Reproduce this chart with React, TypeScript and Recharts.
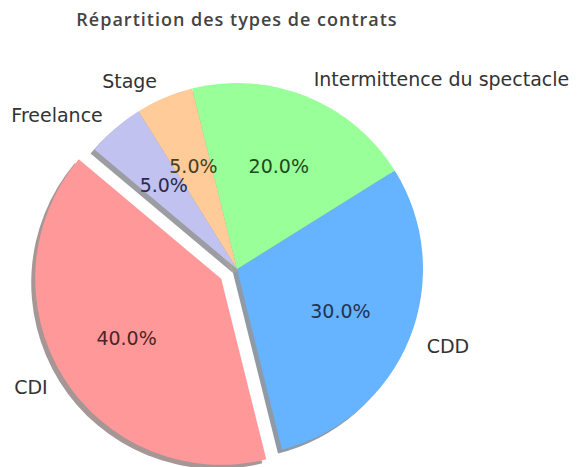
import { PieChart, Pie, Cell } from "recharts";

const CONTRATS = ["CDI", "CDD", "Intermittence du spectacle", "Stage", "Freelance"];
const PARTS = [40, 30, 20, 5, 5];
const COULEURS = ["#ff9999", "#66b3ff", "#99ff99", "#ffcc99", "#c2c2f0"];
const COULEURS_TEXTE = ["#4a2626", "#1e3550", "#1f4a1f", "#4a3d22", "#2a2a4e"];
const EXPLOSE = [true, false, false, false, false];

const data = CONTRATS.map((nom, i) => ({ nom, part: PARTS[i] }));

const W = 583;
const H = 467;
const CX = 237;
const CY = 269;
const R = 186;
const START = 140;
const RAD = Math.PI / 180;

// offset of the exploded slice (0.1 * radius along its mid angle)
const total = PARTS.reduce((a, b) => a + b, 0);
const idxExp = EXPLOSE.indexOf(true);
const avant = PARTS.slice(0, idxExp).reduce((a, b) => a + b, 0);
const midExp = START + ((avant + PARTS[idxExp] / 2) / total) * 360;
const DX = 0.1 * R * Math.cos(-midExp * RAD);
const DY = 0.1 * R * Math.sin(-midExp * RAD);

const SHADOW_X = -4;
const SHADOW_Y = 4;

function assombrir(hex: string) {
  const n = parseInt(hex.slice(1), 16);
  const r = Math.round(((n >> 16) & 255) * 0.3);
  const g = Math.round(((n >> 8) & 255) * 0.3);
  const b = Math.round((n & 255) * 0.3);
  return `rgb(${r},${g},${b})`;
}

const FONT = "'DejaVu Sans', sans-serif";

function makeLabel(exploded: boolean) {
  return (props: any) => {
    const { cx, cy, midAngle, outerRadius, index, percent } = props;
    if (EXPLOSE[index] !== exploded) return null;
    const c = Math.cos(-midAngle * RAD);
    const s = Math.sin(-midAngle * RAD);
    const lx = cx + outerRadius * 1.1 * c;
    const ly = cy + outerRadius * 1.1 * s;
    const px = cx + outerRadius * 0.6 * c;
    const py = cy + outerRadius * 0.6 * s;
    return (
      <g key={`lab-${index}`}>
        <text x={lx} y={ly} textAnchor={c >= 0 ? "start" : "end"} dominantBaseline="central" fontFamily={FONT} fontSize={19} fill="#333">
          {CONTRATS[index]}
        </text>
        <text x={px} y={py} textAnchor="middle" dominantBaseline="central" fontFamily={FONT} fontSize={19} fill={COULEURS_TEXTE[index]}>
          {(percent * 100).toFixed(1)}%
        </text>
      </g>
    );
  };
}

export default function App() {
  return (
    <div style={{ position: "absolute", left: 0, top: 0, width: W, height: H, background: "#fff" }}>
      <PieChart width={W} height={H} margin={{ top: 0, right: 0, bottom: 0, left: 0 }}>
        <text x={237} y={19} textAnchor="middle" dominantBaseline="central" fontFamily="'Open Sans', sans-serif" fontWeight={600} fontSize={18} letterSpacing={1} fill="#444">
          Répartition des types de contrats
        </text>
        {/* shadows */}
        <Pie data={data} dataKey="part" nameKey="nom" cx={CX + SHADOW_X} cy={CY + SHADOW_Y} outerRadius={R} startAngle={START} endAngle={START + 360} isAnimationActive={false} stroke="none" label={false} labelLine={false}>
          {data.map((_, i) => (
            <Cell key={i} fill={EXPLOSE[i] ? "transparent" : assombrir(COULEURS[i])} fillOpacity={0.5} stroke="none" />
          ))}
        </Pie>
        <Pie data={data} dataKey="part" nameKey="nom" cx={CX + DX + SHADOW_X} cy={CY + DY + SHADOW_Y} outerRadius={R} startAngle={START} endAngle={START + 360} isAnimationActive={false} stroke="none" label={false} labelLine={false}>
          {data.map((_, i) => (
            <Cell key={i} fill={EXPLOSE[i] ? assombrir(COULEURS[i]) : "transparent"} fillOpacity={0.5} stroke="none" />
          ))}
        </Pie>
        {/* wedges */}
        <Pie data={data} dataKey="part" nameKey="nom" cx={CX} cy={CY} outerRadius={R} startAngle={START} endAngle={START + 360} isAnimationActive={false} stroke="none" label={makeLabel(false)} labelLine={false}>
          {data.map((_, i) => (
            <Cell key={i} fill={EXPLOSE[i] ? "transparent" : COULEURS[i]} stroke="none" />
          ))}
        </Pie>
        <Pie data={data} dataKey="part" nameKey="nom" cx={CX + DX} cy={CY + DY} outerRadius={R} startAngle={START} endAngle={START + 360} isAnimationActive={false} stroke="none" label={makeLabel(true)} labelLine={false}>
          {data.map((_, i) => (
            <Cell key={i} fill={EXPLOSE[i] ? COULEURS[i] : "transparent"} stroke="none" />
          ))}
        </Pie>
      </PieChart>
    </div>
  );
}
